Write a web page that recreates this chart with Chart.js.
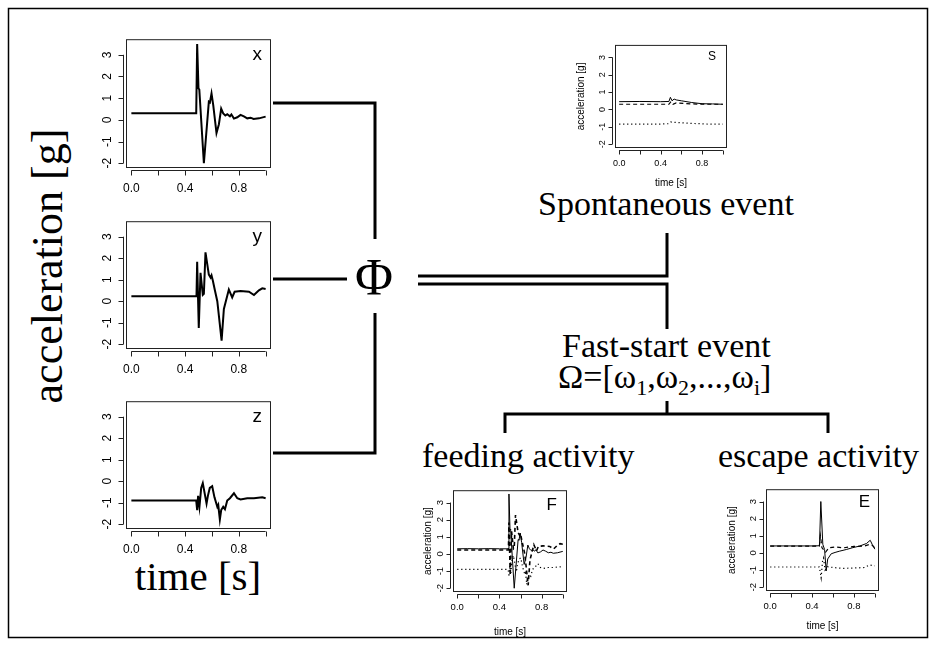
<!DOCTYPE html>
<html>
<head>
<meta charset="utf-8">
<script src="https://cdn.jsdelivr.net/npm/chart.js@4.4.1/dist/chart.umd.min.js"></script>
<style>
  html, body { margin: 0; padding: 0; background: #fff; }
  #page { position: relative; width: 936px; height: 646px; overflow: hidden; }
  #page canvas { position: absolute; }
  #diagram { position: absolute; left: 0; top: 0; }
  .serif { font-family: "Liberation Serif", "DejaVu Serif", serif; fill: #000; }
  .wire { stroke: #000; stroke-width: 3; fill: none; }
</style>
</head>
<body>
<div id="page">
  <svg id="diagram" width="936" height="646">
    <rect x="8.5" y="8.5" width="919" height="629" fill="none" stroke="#000" stroke-width="1.5"/>
    <!-- x, y, z feed into the feature vector -->
    <path class="wire" d="M273 103 H375 V239"/>
    <path class="wire" d="M273 279 H347"/>
    <path class="wire" d="M375 313 V453 H273"/>
    <!-- split into spontaneous / fast-start -->
    <path class="wire" d="M418 276 H667 V233"/>
    <path class="wire" d="M418 284 H667 V329"/>
    <path class="wire" d="M667 401 V414"/>
    <path class="wire" d="M505 433 V414 H828 V433"/>

    <text class="serif" x="374" y="295" font-size="52" text-anchor="middle">Φ</text>
    <text class="serif" x="538" y="215" font-size="34">Spontaneous event</text>
    <text class="serif" x="562" y="357" font-size="34">Fast-start event</text>
    <text class="serif" x="558" y="388" font-size="34">Ω=[ω<tspan font-size="22" dy="7">1</tspan><tspan dy="-7">,ω</tspan><tspan font-size="22" dy="7">2</tspan><tspan dy="-7">,...,ω</tspan><tspan font-size="22" dy="7">i</tspan><tspan dy="-7">]</tspan></text>
    <text class="serif" x="422" y="467" font-size="34">feeding activity</text>
    <text class="serif" x="718" y="467" font-size="34">escape activity</text>
    <text class="serif" x="198" y="590" font-size="41" text-anchor="middle">time [s]</text>
    <text class="serif" x="62" y="266" font-size="44" text-anchor="middle" transform="rotate(-90 62 266)">acceleration [g]</text>
  </svg>
  <canvas id="plotX"></canvas>
  <canvas id="plotY"></canvas>
  <canvas id="plotZ"></canvas>
  <canvas id="plotS"></canvas>
  <canvas id="plotF"></canvas>
  <canvas id="plotE"></canvas>
</div>
<script>
// axis setup shared by all panels
const xTicks = [0, 0.2, 0.4, 0.6, 0.8, 1.0];
const xLabelled = [0, 0.4, 0.8];
const yTicks = [-2, -1, 0, 1, 2, 3];

// fast-start recording, three accelerometer axes
const accXTime = [0, 0.1, 0.2, 0.3, 0.4, 0.483, 0.49, 0.5, 0.506, 0.54, 0.577, 0.585, 0.597, 0.61, 0.634, 0.652, 0.669, 0.684, 0.7, 0.714, 0.734, 0.745, 0.764, 0.789, 0.813, 0.838, 0.863, 0.888, 0.91, 0.95, 1.0];
const accX = [0.3, 0.31, 0.3, 0.31, 0.3, 0.3, 3.5, 1.45, 1.4, -2.0, 0.84, 0.8, 1.22, 0.67, -0.61, -0.2, 0.52, 0.3, 0.2, 0.26, 0.16, 0.25, 0.06, 0.12, 0.23, 0.16, 0.07, 0.1, 0.04, 0.07, 0.15];

const accYTime = [0, 0.2, 0.4, 0.485, 0.49, 0.502, 0.515, 0.532, 0.54, 0.552, 0.577, 0.59, 0.597, 0.607, 0.622, 0.64, 0.672, 0.689, 0.726, 0.751, 0.769, 0.813, 0.876, 0.913, 0.95, 0.975, 1.0];
const accY = [0.23, 0.23, 0.23, 0.23, 1.83, -1.24, 1.32, 0.3, 0.35, 2.27, 1.24, 1.1, 1.2, 0.95, 0.51, 0.0, -1.83, -0.36, 0.54, 0.18, 0.44, 0.47, 0.44, 0.29, 0.51, 0.6, 0.57];

const accZTime = [0, 0.2, 0.4, 0.483, 0.49, 0.497, 0.507, 0.52, 0.532, 0.545, 0.56, 0.57, 0.584, 0.602, 0.619, 0.64, 0.647, 0.659, 0.669, 0.684, 0.697, 0.714, 0.734, 0.764, 0.789, 0.813, 0.863, 0.913, 0.975, 1.0];
const accZ = [-0.9, -0.9, -0.9, -0.9, -1.34, -0.68, -1.19, -0.31, -0.09, -0.53, -1.04, -0.68, -0.31, -0.23, -0.75, -1.19, -1.1, -1.78, -1.34, -1.19, -1.3, -0.9, -0.79, -0.56, -0.79, -0.85, -0.79, -0.79, -0.75, -0.79];

// spontaneous event
const spontXTime = [0, 0.2, 0.4, 0.48, 0.494, 0.51, 0.53, 0.55, 0.6, 0.7, 0.8, 0.9, 1.0];
const spontX = [0.45, 0.46, 0.45, 0.46, 0.7, 0.5, 0.6, 0.55, 0.5, 0.4, 0.33, 0.32, 0.3];
const spontYTime = [0, 0.2, 0.4, 0.48, 0.5, 0.52, 0.55, 0.7, 0.85, 1.0];
const spontY = [0.3, 0.3, 0.3, 0.3, 0.45, 0.3, 0.38, 0.32, 0.3, 0.3];
const spontZTime = [0, 0.2, 0.4, 0.48, 0.5, 0.55, 0.7, 0.85, 1.0];
const spontZ = [-0.85, -0.85, -0.84, -0.82, -0.72, -0.75, -0.8, -0.84, -0.85];

// escape event
const escXTime = [0, 0.2, 0.4, 0.471, 0.484, 0.503, 0.52, 0.535, 0.55, 0.583, 0.62, 0.66, 0.727, 0.79, 0.854, 0.92, 0.956, 0.975, 1.0];
const escX = [0.41, 0.41, 0.41, 0.42, 3.0, 0.5, 0.2, -1.05, -0.35, -0.05, 0.03, 0.1, 0.2, 0.31, 0.4, 0.55, 0.74, 0.5, 0.22];
const escYTime = [0, 0.2, 0.4, 0.47, 0.48, 0.495, 0.53, 0.56, 0.62, 0.7, 0.8, 0.9, 0.95, 0.975, 1.0];
const escY = [0.4, 0.4, 0.4, 0.4, 1.0, 0.3, 0.05, 0.3, 0.35, 0.3, 0.38, 0.4, 0.5, 0.45, 0.3];
const escZTime = [0, 0.2, 0.4, 0.47, 0.487, 0.5, 0.51, 0.525, 0.55, 0.6, 0.7, 0.8, 0.9, 0.95, 1.0];
const escZ = [-0.82, -0.82, -0.82, -0.82, -1.45, -0.5, -0.3, -1.0, -0.8, -0.85, -0.9, -0.88, -0.85, -0.7, -0.75];

const SANS = '"Liberation Sans", Arial, sans-serif';
Chart.defaults.font.family = SANS;
Chart.defaults.color = '#000';

const toPoints = (t, v) => t.map((x, i) => ({ x, y: v[i] }));

// R-style box, detached axis lines, tick marks and the corner tag
const rAxes = {
  id: 'rAxes',
  afterDraw(chart, args, o) {
    const { ctx, chartArea: a, scales: { x, y } } = chart;
    ctx.save();
    ctx.strokeStyle = '#222';
    ctx.lineWidth = 1;
    ctx.strokeRect(a.left + 0.5, a.top + 0.5, a.right - a.left - 1, a.bottom - a.top - 1);

    ctx.beginPath();
    const yb = Math.round(a.bottom + o.gap) + 0.5;
    ctx.moveTo(x.getPixelForValue(xTicks[0]), yb);
    ctx.lineTo(x.getPixelForValue(xTicks[xTicks.length - 1]), yb);
    xTicks.forEach(v => {
      const px = Math.round(x.getPixelForValue(v)) + 0.5;
      ctx.moveTo(px, yb);
      ctx.lineTo(px, yb + o.len);
    });
    const xl = Math.round(a.left - o.gap) - 0.5;
    ctx.moveTo(xl, y.getPixelForValue(yTicks[0]));
    ctx.lineTo(xl, y.getPixelForValue(yTicks[yTicks.length - 1]));
    yTicks.forEach(v => {
      const py = Math.round(y.getPixelForValue(v)) + 0.5;
      ctx.moveTo(xl, py);
      ctx.lineTo(xl - o.len, py);
    });
    ctx.stroke();

    ctx.fillStyle = '#000';
    ctx.font = o.tagSize + 'px ' + SANS;
    ctx.textAlign = 'right';
    ctx.textBaseline = 'alphabetic';
    ctx.fillText(o.tag, a.right - o.tagDx, a.top + o.tagDy);
    ctx.restore();
  }
};

function panel(id, box, ax, series) {
  const cv = document.getElementById(id);
  const W = box.w + box.padL + box.padR;
  const H = box.h + box.padT + box.padB;
  cv.width = W;
  cv.height = H;
  cv.style.left = (box.x - box.padL) + 'px';
  cv.style.top = (box.y - box.padT) + 'px';
  cv.style.width = W + 'px';
  cv.style.height = H + 'px';

  new Chart(cv, {
    type: 'line',
    data: {
      datasets: series.map(s => ({
        data: toPoints(s.t, s.v),
        borderColor: '#000',
        borderWidth: s.width,
        borderDash: s.dash || [],
        pointRadius: 0,
        tension: 0,
        fill: false
      }))
    },
    options: {
      responsive: false,
      animation: false,
      devicePixelRatio: 1,
      layout: { padding: { left: 0, top: box.padT, right: box.padR, bottom: 0 } },
      plugins: {
        legend: { display: false },
        tooltip: { enabled: false },
        rAxes: ax
      },
      scales: {
        x: {
          type: 'linear',
          min: -0.04,
          max: 1.04,
          afterFit: s => { s.height = box.padB; },
          afterBuildTicks: s => { s.ticks = xTicks.map(value => ({ value })); },
          grid: { display: false, drawTicks: true, tickLength: ax.xTl },
          border: { display: false },
          ticks: {
            autoSkip: false,
            maxRotation: 0,
            padding: ax.xPad,
            font: { size: ax.tickSize },
            callback: v => xLabelled.includes(v) ? v.toFixed(1) : ''
          },
          title: { display: !!ax.xTitle, text: ax.xTitle, padding: 0, font: { size: ax.titleSize } }
        },
        y: {
          type: 'linear',
          min: -2.22,
          max: 3.72,
          afterFit: s => { s.width = box.padL; },
          afterBuildTicks: s => { s.ticks = yTicks.map(value => ({ value })); },
          grid: { display: false, drawTicks: true, tickLength: ax.yTl },
          border: { display: false },
          ticks: {
            autoSkip: false,
            minRotation: 90,
            maxRotation: 90,
            crossAlign: 'center',
            padding: ax.yPad,
            font: { size: ax.tickSize },
            callback: v => String(v)
          },
          title: { display: !!ax.yTitle, text: ax.yTitle, padding: 0, font: { size: ax.titleSize } }
        }
      }
    },
    plugins: [rAxes]
  });
}

const bigAxes = tag => ({
  gap: 2, len: 5, tag, tagSize: 19, tagDx: 9, tagDy: 21,
  tickSize: 12, xTl: 7, xPad: 6, yTl: 8, yPad: 5
});
const smallAxes = (tag, tagSize, tagDx, tagDy, tickSize) => ({
  gap: 2, len: 4, tag, tagSize, tagDx, tagDy,
  tickSize, xTl: 5, xPad: 5, yTl: 5, yPad: 3.5,
  titleSize: 10, xTitle: 'time [s]', yTitle: 'acceleration [g]'
});

panel('plotX', { x: 126, y: 31, w: 145, h: 137, padL: 45, padT: 4, padR: 4, padB: 30 },
  bigAxes('x'), [{ t: accXTime, v: accX, width: 2 }]);
panel('plotY', { x: 126, y: 213, w: 145, h: 136, padL: 45, padT: 4, padR: 4, padB: 30 },
  bigAxes('y'), [{ t: accYTime, v: accY, width: 2 }]);
panel('plotZ', { x: 126, y: 393, w: 145, h: 136, padL: 45, padT: 4, padR: 4, padB: 30 },
  bigAxes('z'), [{ t: accZTime, v: accZ, width: 2 }]);

panel('plotS', { x: 615, y: 40, w: 112, h: 108, padL: 40, padT: 4, padR: 4, padB: 41 },
  smallAxes('S', 12, 11, 15, 9),
  [
    { t: spontXTime, v: spontX, width: 1 },
    { t: spontYTime, v: spontY, width: 1.2, dash: [4, 3] },
    { t: spontZTime, v: spontZ, width: 1.2, dash: [1.2, 2.8] }
  ]);
panel('plotF', { x: 453, y: 485, w: 114, h: 107, padL: 31, padT: 4, padR: 4, padB: 46 },
  smallAxes('F', 17, 10, 20, 9.5),
  [
    { t: accXTime, v: accX, width: 1 },
    { t: accYTime, v: accY, width: 1.6, dash: [4, 3] },
    { t: accZTime, v: accZ, width: 1.2, dash: [1.2, 2.8] }
  ]);
panel('plotE', { x: 766, y: 484, w: 113, h: 107, padL: 40, padT: 4, padR: 4, padB: 41 },
  smallAxes('E', 17, 9, 18, 9.5),
  [
    { t: escXTime, v: escX, width: 1 },
    { t: escYTime, v: escY, width: 1.2, dash: [4, 3] },
    { t: escZTime, v: escZ, width: 1.2, dash: [1.2, 2.8] }
  ]);
</script>
</body>
</html>
